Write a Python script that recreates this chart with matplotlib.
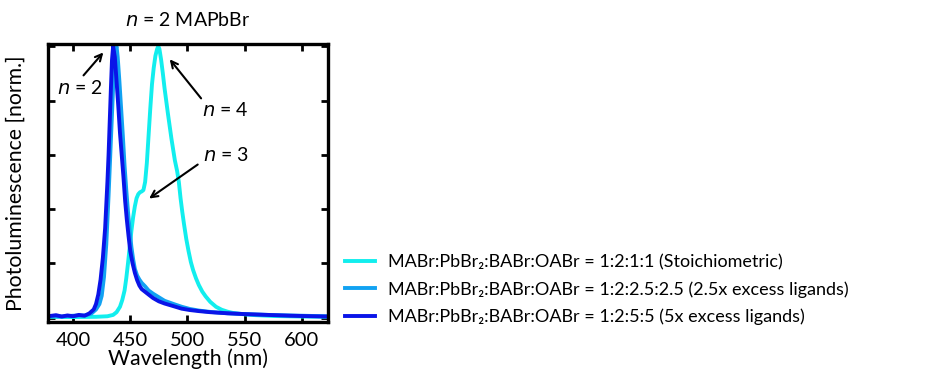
import matplotlib
matplotlib.use("Agg")
import matplotlib.pyplot as plt

plt.rcParams['font.family'] = ['Lato', 'DejaVu Sans']

# Stoichiometric (cyan)
wl_stoich = [378, 400, 420, 430, 435, 438, 441, 443, 445, 446.5, 448, 449.5, 451, 452.5,
             454, 455.5, 457, 458.5, 460, 461.5, 463, 464.5, 466, 467.5, 469, 470.5, 472,
             473.5, 474.5, 475.5, 477, 478.5, 480, 483, 486, 489, 491, 492.5, 494, 495.5,
             497, 499, 501, 503, 505, 507.5, 510, 513, 516, 520, 525, 530, 535, 540, 550,
             560, 575, 600, 622]
pl_stoich = [0.003, 0.002, 0.003, 0.005, 0.01, 0.02, 0.04, 0.065, 0.1, 0.145, 0.2, 0.26,
             0.32, 0.37, 0.41, 0.44, 0.455, 0.462, 0.465, 0.47, 0.5, 0.57, 0.67, 0.77, 0.86,
             0.92, 0.965, 0.99, 1.0, 0.99, 0.95, 0.9, 0.845, 0.75, 0.66, 0.58, 0.54, 0.5,
             0.44, 0.39, 0.345, 0.29, 0.245, 0.205, 0.175, 0.145, 0.12, 0.096, 0.078, 0.058,
             0.04, 0.029, 0.022, 0.017, 0.012, 0.009, 0.006, 0.004, 0.003]

# 2.5x excess ligands (mid blue)
wl_25x = [378, 390, 400, 410, 416, 420, 423, 425, 427, 429, 431, 432.5, 434, 435.5, 437,
          438, 439, 440.5, 442, 443.5, 445, 446.5, 448, 449.5, 451, 452.5, 454, 456, 458,
          460, 463, 466, 470, 475, 480, 488, 495, 502, 510, 520, 535, 550, 570, 590, 610,
          622]
pl_25x = [0.006, 0.004, 0.007, 0.008, 0.015, 0.03, 0.05, 0.08, 0.15, 0.27, 0.45, 0.6, 0.75,
          0.9, 0.99, 1.0, 0.96, 0.87, 0.77, 0.67, 0.56, 0.47, 0.39, 0.32, 0.26, 0.215,
          0.18, 0.155, 0.14, 0.128, 0.115, 0.1, 0.088, 0.075, 0.062, 0.05, 0.04, 0.032,
          0.026, 0.021, 0.016, 0.013, 0.01, 0.008, 0.006, 0.005]

# 5x excess ligands (dark blue)
wl_5x = [378, 385, 390, 395, 400, 405, 410, 414, 418, 420, 422, 424, 426, 428, 430, 431,
         432, 433, 434, 435, 436.5, 438, 439.5, 441, 442.5, 444, 445.5, 447, 448.5, 450,
         452, 454, 456, 458, 460, 463, 466, 470, 475, 480, 488, 495, 502, 510, 520, 535,
         550, 570, 590, 610, 622]
pl_5x = [0.005, 0.009, 0.004, 0.008, 0.005, 0.01, 0.007, 0.015, 0.03, 0.05, 0.085, 0.14,
         0.22, 0.33, 0.5, 0.6, 0.72, 0.84, 0.95, 1.0, 0.96, 0.87, 0.78, 0.68, 0.6, 0.52,
         0.43, 0.36, 0.3, 0.245, 0.2, 0.165, 0.138, 0.118, 0.105, 0.095, 0.085, 0.072,
         0.06, 0.052, 0.042, 0.033, 0.028, 0.024, 0.02, 0.016, 0.013, 0.01, 0.007, 0.005,
         0.004]

labels = ["MABr:PbBr\u2082:BABr:OABr = 1:2:1:1 (Stoichiometric)",
          "MABr:PbBr\u2082:BABr:OABr = 1:2:2.5:2.5 (2.5x excess ligands)",
          "MABr:PbBr\u2082:BABr:OABr = 1:2:5:5 (5x excess ligands)"]
colors = ['#12EEEE', '#12A2F2', '#0A14E8']

xticks = [400, 450, 500, 550, 600]
yticks = [0, 0.2, 0.4, 0.6, 0.8, 1.0]

fig = plt.figure(figsize=(9.32, 3.77), dpi=100)
ax = fig.add_axes([0.0515, 0.146, 0.3004, 0.737])

lines = []
for wl, pl, c, lab in [(wl_stoich, pl_stoich, colors[0], labels[0]),
                       (wl_25x, pl_25x, colors[1], labels[1]),
                       (wl_5x, pl_5x, colors[2], labels[2])]:
    ln, = ax.plot(wl, pl, color=c, lw=2.8, label=lab, solid_joinstyle='round')
    lines.append(ln)

ax.set_xlim(378, 623)
ax.set_ylim(-0.016, 1.008)
ax.set_xticks(xticks)
ax.set_yticks(yticks)
ax.set_yticklabels([])
ax.tick_params(direction='in', length=5, width=2, top=True, right=True,
               labelsize=14.5, pad=7)
for sp in ax.spines.values():
    sp.set_linewidth(2.4)

ax.set_xlabel("Wavelength (nm)", fontsize=15.3, labelpad=0)
ax.set_ylabel("Photoluminescence [norm.]", fontsize=15.3, labelpad=9)
ax.text(0.5, 1.055, "$\\mathit{n}$ = 2 MAPbBr", transform=ax.transAxes, ha='center',
        va='bottom', fontsize=14)

arrowprops = dict(arrowstyle='->', color='black', lw=1.5, mutation_scale=12)
ax.annotate("", xy=(428, 0.985), xytext=(407.5, 0.885), arrowprops=arrowprops)
ax.text(405.5, 0.846, "$\\mathit{n}$ = 2", ha='center', va='center', fontsize=14)
ax.annotate("", xy=(483, 0.96), xytext=(513.5, 0.80), arrowprops=arrowprops)
ax.text(533.5, 0.765, "$\\mathit{n}$ = 4", ha='center', va='center', fontsize=14)
ax.annotate("", xy=(464.5, 0.433), xytext=(511, 0.57), arrowprops=arrowprops)
ax.text(533.5, 0.6, "$\\mathit{n}$ = 3", ha='center', va='center', fontsize=14)

fig.legend(handles=lines, labels=labels, loc='center left',
           bbox_to_anchor=(0.362, 0.232), frameon=False, fontsize=13,
           handlelength=1.66, handletextpad=0.72, labelspacing=0.6, borderaxespad=0)

fig.savefig("out.png", dpi=100)
